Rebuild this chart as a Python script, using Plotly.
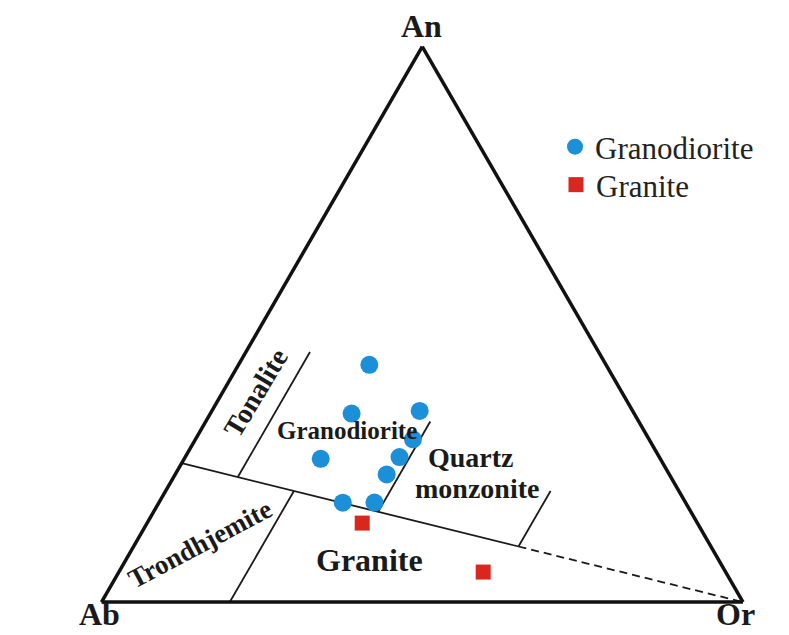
import plotly.graph_objects as go

# ---- data (An, Ab, Or in %) ----
grd_an = [42.7, 33.9, 34.4, 29.3, 26.1, 25.8, 23.0, 17.9, 17.9]
grd_ab = [36.9, 44.0, 33.2, 36.8, 40.5, 53.0, 44.1, 53.5, 48.5]
grd_or = [20.4, 22.0, 32.4, 33.9, 33.4, 21.3, 33.0, 28.7, 33.6]

gra_an = [14.2, 5.4]
gra_ab = [52.2, 37.8]
gra_or = [33.5, 56.8]

# field boundaries (O'Connor, 1965)
div_an = [25, 10]; div_ab = [75, 30]; div_or = [0, 60]            # solid divide
dash_an = [10, 0]; dash_ab = [30, 0]; dash_or = [60, 100]          # dashed continuation
ton_an = [22.5, 45]; ton_ab = [67.5, 45]; ton_or = [10, 10]        # tonalite / granodiorite
qm_an = [16.25, 32.5]; qm_ab = [48.75, 32.5]; qm_or = [35, 35]     # granodiorite / quartz monzonite
qg_an = [10, 20]; qg_ab = [30, 20]; qg_or = [60, 60]               # quartz monzonite / granite
tr_an = [20, 0]; tr_ab = [60, 80]; tr_or = [20, 20]                # trondhjemite / granite

W, H = 789, 635
OFF = 8  # page body margin
SERIF = "Liberation Serif, Times New Roman, serif"

fig = go.Figure()

def bline(a, b, c, dash="solid", width=1.8):
    fig.add_trace(go.Scatterternary(a=a, b=b, c=c, mode="lines",
                                    line=dict(color="#1a1a1a", width=width, dash=dash),
                                    showlegend=False, hoverinfo="skip"))

bline(div_an, div_ab, div_or)
bline(dash_an, dash_ab, dash_or, dash="8px,5px")
bline(ton_an, ton_ab, ton_or)
bline(qm_an, qm_ab, qm_or)
bline(qg_an, qg_ab, qg_or)
bline(tr_an, tr_ab, tr_or)

fig.add_trace(go.Scatterternary(a=grd_an, b=grd_ab, c=grd_or, mode="markers",
                                name="Granodiorite", legend="legend",
                                marker=dict(symbol="circle", size=18, color="#1b8fd8")))
fig.add_trace(go.Scatterternary(a=gra_an, b=gra_ab, c=gra_or, mode="markers",
                                name="Granite", legend="legend2",
                                marker=dict(symbol="square", size=15, color="#d9261f")))

axis_style = dict(showticklabels=False, ticks="", showgrid=False, showline=True,
                  linecolor="#111111", linewidth=3.5, title=dict(text=""))

# triangle placement (screen pixels)
tx0, tw, ttop = 101.5, 641.5, 46.5
th = tw * 3 ** 0.5 / 2
xc = (tx0 - OFF) / W
xd = (tx0 - OFF + tw) / W
yc = 1 - (ttop - OFF + th / 2) / H

leg_font = dict(family=SERIF, size=31, color="#222222")
fig.update_layout(
    width=W, height=H,
    margin=dict(l=0, r=0, t=0, b=0),
    paper_bgcolor="white",
    ternary=dict(
        sum=100,
        bgcolor="white",
        domain=dict(x=[xc, xd], y=[yc - 0.45, yc + 0.45]),
        aaxis=axis_style, baxis=axis_style, caxis=axis_style,
    ),
    showlegend=True,
    legend=dict(x=(555 - OFF) / W, y=1 - (120 - OFF) / H, xanchor="left", yanchor="top",
                font=leg_font, bgcolor="rgba(0,0,0,0)"),
    legend2=dict(x=(556 - OFF) / W, y=1 - (158 - OFF) / H, xanchor="left", yanchor="top",
                 font=leg_font, bgcolor="rgba(0,0,0,0)"),
)

def px(x, y):
    return (x - OFF) / W, 1 - (y - OFF) / H

annots = [
    ("An", 421, 26, 32, 0),
    ("Ab", 99, 614, 32, 0),
    ("Or", 735, 614, 32, 0),
    ("Tonalite", 255, 393, 28, -59),
    ("Granodiorite", 347, 431, 25, 0),
    ("Quartz", 471, 457, 28, 0),
    ("monzonite", 477, 488, 28, 0),
    ("Trondhjemite", 200, 544, 27, -28),
    ("Granite", 369, 560, 32, 0),
]
for text, x, y, size, ang in annots:
    xx, yy = px(x, y)
    fig.add_annotation(x=xx, y=yy, xref="paper", yref="paper", text="<b>%s</b>" % text,
                       showarrow=False, textangle=ang, xanchor="center", yanchor="middle",
                       font=dict(family=SERIF, size=size, color="#1a1a1a"))

fig.write_html("out.html")
